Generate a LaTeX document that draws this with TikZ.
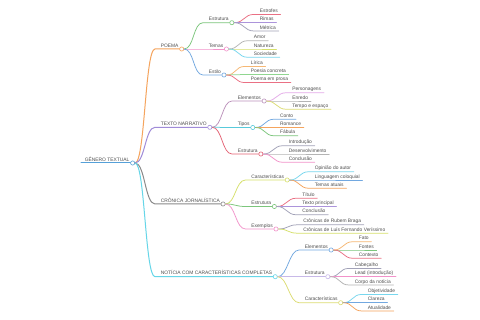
\documentclass[tikz,border=0pt]{standalone}
\usepackage{fontspec}
\setmainfont{Liberation Sans}
\usetikzlibrary{positioning}
\definecolor{txtgray}{HTML}{505050}
\definecolor{cSteel}{HTML}{55A0D8}
\definecolor{cOrange}{HTML}{F5A45D}
\definecolor{cPurple}{HTML}{A08CD8}
\definecolor{cGray}{HTML}{8A8A8A}
\definecolor{cCyan}{HTML}{66D6E8}
\definecolor{cGreen}{HTML}{7CC67C}
\definecolor{cPink}{HTML}{F292CA}
\definecolor{cBlue}{HTML}{72A8E0}
\definecolor{cRose}{HTML}{EA7084}
\definecolor{cViolet}{HTML}{AC94DB}
\definecolor{cSlate}{HTML}{A2A2B8}
\definecolor{cSilver}{HTML}{B4B4B4}
\definecolor{cLime}{HTML}{D6E06A}
\definecolor{cSky}{HTML}{78D7EE}
\definecolor{cPeach}{HTML}{F6B874}
\definecolor{cMint}{HTML}{90D690}
\definecolor{cMauve}{HTML}{BC92BB}
\definecolor{cTeal}{HTML}{58CADB}
\definecolor{cRed}{HTML}{E46274}
\definecolor{cLilac}{HTML}{E4AAE8}
\definecolor{cYellow}{HTML}{DCDC72}
\definecolor{cLav}{HTML}{C8B9E8}

\begin{document}
\begin{tikzpicture}[x=1pt, y=-1pt]
\tikzset{
  lbl/.style={font=\fontsize{4.9}{5.9}\selectfont, text=txtgray, inner sep=0.6pt, anchor=base west},
  knot/.style={circle, draw, fill=white, minimum size=4.2pt, inner sep=0pt, line width=0.6pt, anchor=west},
  limb/.style={line width=1pt, line cap=round},
  twig/.style={line width=0.75pt, line cap=round}
}
\path[fill=white] (0,0) rectangle (480,320);

% root
\node[lbl] (root) at (84,161.2) {GÊNERO TEXTUAL};
\coordinate (root-s) at (81,163);
\node[knot, draw=cSteel] (root-c) at (root.east |- root-s) {};
\draw[limb, cSteel] (root-s) -- (root-c.west);

% first level
\node[lbl] (poema) at (160,47.2) {POEMA};
\coordinate (poema-s) at (155,49);
\node[knot, draw=cOrange] (poema-c) at (poema.east |- poema-s) {};
\draw[limb, cOrange] (root-c.east) .. controls +(10,0) and +(-10,0) .. (poema-s) -- (poema-c.west);

\node[lbl] (narr) at (160,125.5) {TEXTO NARRATIVO};
\coordinate (narr-s) at (155,127.3);
\node[knot, draw=cPurple] (narr-c) at (narr.east |- narr-s) {};
\draw[limb, cPurple] (root-c.east) .. controls +(10,0) and +(-10,0) .. (narr-s) -- (narr-c.west);

\node[lbl] (cron) at (160,202.2) {CRÔNICA JORNALÍSTICA};
\coordinate (cron-s) at (155,204);
\node[knot, draw=cGray] (cron-c) at (cron.east |- cron-s) {};
\draw[limb, cGray] (root-c.east) .. controls +(10,0) and +(-10,0) .. (cron-s) -- (cron-c.west);

\node[lbl] (noti) at (160,274.9) {NOTÍCIA COM CARACTERÍSTICAS COMPLETAS};
\coordinate (noti-s) at (155,276.7);
\node[knot, draw=cCyan] (noti-c) at (noti.east |- noti-s) {};
\draw[limb, cCyan] (root-c.east) .. controls +(10,0) and +(-10,0) .. (noti-s) -- (noti-c.west);

% POEMA
\node[lbl] (poema-estr) at (208,20.9) {Estrutura};
\coordinate (poema-estr-s) at (203,22.7);
\node[knot, draw=cGreen] (poema-estr-c) at (poema-estr.east |- poema-estr-s) {};
\draw[twig, cGreen] (poema-c.east) .. controls +(10,0) and +(-10,0) .. (poema-estr-s) -- (poema-estr-c.west);

\node[lbl] (poema-tema) at (208,47.2) {Temas};
\coordinate (poema-tema-s) at (203,49);
\node[knot, draw=cPink] (poema-tema-c) at (poema-tema.east |- poema-tema-s) {};
\draw[twig, cPink] (poema-c.east) .. controls +(10,0) and +(-10,0) .. (poema-tema-s) -- (poema-tema-c.west);

\node[lbl] (poema-esti) at (208,73.2) {Estilo};
\coordinate (poema-esti-s) at (203,75);
\node[knot, draw=cBlue] (poema-esti-c) at (poema-esti.east |- poema-esti-s) {};
\draw[twig, cBlue] (poema-c.east) .. controls +(10,0) and +(-10,0) .. (poema-esti-s) -- (poema-esti-c.west);

\node[lbl] (estrofes) at (259,12.6) {Estrofes};  \coordinate (estrofes-s) at (254,14.4);
\draw[twig, cRose] (poema-estr-c.east) .. controls +(10,0) and +(-10,0) .. (estrofes-s) -- ([xshift=2pt]estrofes.east |- estrofes-s);
\node[lbl] (rimas) at (259,20.9) {Rimas};  \coordinate (rimas-s) at (254,22.7);
\draw[twig, cViolet] (poema-estr-c.east) .. controls +(10,0) and +(-10,0) .. (rimas-s) -- ([xshift=2pt]rimas.east |- rimas-s);
\node[lbl] (metrica) at (259,29.2) {Métrica};  \coordinate (metrica-s) at (254,31);
\draw[twig, cSlate] (poema-estr-c.east) .. controls +(10,0) and +(-10,0) .. (metrica-s) -- ([xshift=2pt]metrica.east |- metrica-s);

\node[lbl] (amor) at (253,38.9) {Amor};  \coordinate (amor-s) at (248,40.7);
\draw[twig, cSilver] (poema-tema-c.east) .. controls +(10,0) and +(-10,0) .. (amor-s) -- ([xshift=2pt]amor.east |- amor-s);
\node[lbl] (natureza) at (253,47.2) {Natureza};  \coordinate (natureza-s) at (248,49);
\draw[twig, cLime] (poema-tema-c.east) .. controls +(10,0) and +(-10,0) .. (natureza-s) -- ([xshift=2pt]natureza.east |- natureza-s);
\node[lbl] (sociedade) at (253,55.5) {Sociedade};  \coordinate (sociedade-s) at (248,57.3);
\draw[twig, cSky] (poema-tema-c.east) .. controls +(10,0) and +(-10,0) .. (sociedade-s) -- ([xshift=2pt]sociedade.east |- sociedade-s);

\node[lbl] (lirica) at (250,64.6) {Lírica};  \coordinate (lirica-s) at (245,66.4);
\draw[twig, cPeach] (poema-esti-c.east) .. controls +(10,0) and +(-10,0) .. (lirica-s) -- ([xshift=2pt]lirica.east |- lirica-s);
\node[lbl] (concreta) at (250,72.7) {Poesia concreta};  \coordinate (concreta-s) at (245,74.5);
\draw[twig, cMint] (poema-esti-c.east) .. controls +(10,0) and +(-10,0) .. (concreta-s) -- ([xshift=2pt]concreta.east |- concreta-s);
\node[lbl] (prosa) at (250,80.8) {Poema em prosa};  \coordinate (prosa-s) at (245,82.6);
\draw[twig, cRose] (poema-esti-c.east) .. controls +(10,0) and +(-10,0) .. (prosa-s) -- ([xshift=2pt]prosa.east |- prosa-s);

% TEXTO NARRATIVO
\node[lbl] (narr-elem) at (237,99.2) {Elementos};
\coordinate (narr-elem-s) at (232,101);
\node[knot, draw=cMauve] (narr-elem-c) at (narr-elem.east |- narr-elem-s) {};
\draw[twig, cMauve] (narr-c.east) .. controls +(10,0) and +(-10,0) .. (narr-elem-s) -- (narr-elem-c.west);

\node[lbl] (narr-tipo) at (237,125.7) {Tipos};
\coordinate (narr-tipo-s) at (232,127.5);
\node[knot, draw=cTeal] (narr-tipo-c) at (narr-tipo.east |- narr-tipo-s) {};
\draw[twig, cTeal] (narr-c.east) .. controls +(10,0) and +(-10,0) .. (narr-tipo-s) -- (narr-tipo-c.west);

\node[lbl] (narr-estr) at (237,152.2) {Estrutura};
\coordinate (narr-estr-s) at (232,154);
\node[knot, draw=cRed] (narr-estr-c) at (narr-estr.east |- narr-estr-s) {};
\draw[twig, cRed] (narr-c.east) .. controls +(10,0) and +(-10,0) .. (narr-estr-s) -- (narr-estr-c.west);

\node[lbl] (personagens) at (291.5,90.9) {Personagens};  \coordinate (personagens-s) at (286.5,92.7);
\draw[twig, cLilac] (narr-elem-c.east) .. controls +(10,0) and +(-10,0) .. (personagens-s) -- ([xshift=2pt]personagens.east |- personagens-s);
\node[lbl] (enredo) at (291.5,99.2) {Enredo};  \coordinate (enredo-s) at (286.5,101);
\draw[twig, cSilver] (narr-elem-c.east) .. controls +(10,0) and +(-10,0) .. (enredo-s) -- ([xshift=2pt]enredo.east |- enredo-s);
\node[lbl] (tempo) at (291.5,107.5) {Tempo e espaço};  \coordinate (tempo-s) at (286.5,109.3);
\draw[twig, cYellow] (narr-elem-c.east) .. controls +(10,0) and +(-10,0) .. (tempo-s) -- ([xshift=2pt]tempo.east |- tempo-s);

\node[lbl] (conto) at (279.3,117.4) {Conto};  \coordinate (conto-s) at (274.3,119.2);
\draw[twig, cBlue] (narr-tipo-c.east) .. controls +(10,0) and +(-10,0) .. (conto-s) -- ([xshift=2pt]conto.east |- conto-s);
\node[lbl] (romance) at (279.3,125.7) {Romance};  \coordinate (romance-s) at (274.3,127.5);
\draw[twig, cOrange] (narr-tipo-c.east) .. controls +(10,0) and +(-10,0) .. (romance-s) -- ([xshift=2pt]romance.east |- romance-s);
\node[lbl] (fabula) at (279.3,134) {Fábula};  \coordinate (fabula-s) at (274.3,135.8);
\draw[twig, cGreen] (narr-tipo-c.east) .. controls +(10,0) and +(-10,0) .. (fabula-s) -- ([xshift=2pt]fabula.east |- fabula-s);

\node[lbl] (intro) at (288,143.9) {Introdução};  \coordinate (intro-s) at (283,145.7);
\draw[twig, cSlate] (narr-estr-c.east) .. controls +(10,0) and +(-10,0) .. (intro-s) -- ([xshift=2pt]intro.east |- intro-s);
\node[lbl] (desenv) at (288,152.2) {Desenvolvimento};  \coordinate (desenv-s) at (283,154);
\draw[twig, cSilver] (narr-estr-c.east) .. controls +(10,0) and +(-10,0) .. (desenv-s) -- ([xshift=2pt]desenv.east |- desenv-s);
\node[lbl] (concl-a) at (288,160.5) {Conclusão};  \coordinate (concl-a-s) at (283,162.3);
\draw[twig, cPink] (narr-estr-c.east) .. controls +(10,0) and +(-10,0) .. (concl-a-s) -- ([xshift=2pt]concl-a.east |- concl-a-s);

% CRONICA JORNALISTICA
\node[lbl] (cron-cara) at (250.5,178.2) {Características};
\coordinate (cron-cara-s) at (245.5,180);
\node[knot, draw=cLime] (cron-cara-c) at (cron-cara.east |- cron-cara-s) {};
\draw[twig, cLime] (cron-c.east) .. controls +(10,0) and +(-10,0) .. (cron-cara-s) -- (cron-cara-c.west);

\node[lbl] (cron-estr) at (250.5,204.7) {Estrutura};
\coordinate (cron-estr-s) at (245.5,206.5);
\node[knot, draw=cGreen] (cron-estr-c) at (cron-estr.east |- cron-estr-s) {};
\draw[twig, cGreen] (cron-c.east) .. controls +(10,0) and +(-10,0) .. (cron-estr-s) -- (cron-estr-c.west);

\node[lbl] (cron-exem) at (250.5,227.2) {Exemplos};
\coordinate (cron-exem-s) at (245.5,229);
\node[knot, draw=cPink] (cron-exem-c) at (cron-exem.east |- cron-exem-s) {};
\draw[twig, cPink] (cron-c.east) .. controls +(10,0) and +(-10,0) .. (cron-exem-s) -- (cron-exem-c.west);

\node[lbl] (opiniao) at (314,169.9) {Opinião do autor};  \coordinate (opiniao-s) at (309,171.7);
\draw[twig, cSky] (cron-cara-c.east) .. controls +(10,0) and +(-10,0) .. (opiniao-s) -- ([xshift=2pt]opiniao.east |- opiniao-s);
\node[lbl] (coloquial) at (314,178.2) {Linguagem coloquial};  \coordinate (coloquial-s) at (309,180);
\draw[twig, cBlue] (cron-cara-c.east) .. controls +(10,0) and +(-10,0) .. (coloquial-s) -- ([xshift=2pt]coloquial.east |- coloquial-s);
\node[lbl] (atuais) at (314,186.5) {Temas atuais};  \coordinate (atuais-s) at (309,188.3);
\draw[twig, cOrange] (cron-cara-c.east) .. controls +(10,0) and +(-10,0) .. (atuais-s) -- ([xshift=2pt]atuais.east |- atuais-s);

\node[lbl] (titulo) at (301.5,196.4) {Título};  \coordinate (titulo-s) at (296.5,198.2);
\draw[twig, cRose] (cron-estr-c.east) .. controls +(10,0) and +(-10,0) .. (titulo-s) -- ([xshift=2pt]titulo.east |- titulo-s);
\node[lbl] (principal) at (301.5,204.7) {Texto principal};  \coordinate (principal-s) at (296.5,206.5);
\draw[twig, cViolet] (cron-estr-c.east) .. controls +(10,0) and +(-10,0) .. (principal-s) -- ([xshift=2pt]principal.east |- principal-s);
\node[lbl] (concl-b) at (301.5,213) {Conclusão};  \coordinate (concl-b-s) at (296.5,214.8);
\draw[twig, cSlate] (cron-estr-c.east) .. controls +(10,0) and +(-10,0) .. (concl-b-s) -- ([xshift=2pt]concl-b.east |- concl-b-s);

\node[lbl] (braga) at (302.5,223) {Crônicas de Rubem Braga};  \coordinate (braga-s) at (297.5,224.8);
\draw[twig, cSlate] (cron-exem-c.east) .. controls +(10,0) and +(-10,0) .. (braga-s) -- ([xshift=2pt]braga.east |- braga-s);
\node[lbl] (verissimo) at (302.5,231.4) {Crônicas de Luís Fernando Veríssimo};  \coordinate (verissimo-s) at (297.5,233.2);
\draw[twig, cLime] (cron-exem-c.east) .. controls +(10,0) and +(-10,0) .. (verissimo-s) -- ([xshift=2pt]verissimo.east |- verissimo-s);

% NOTICIA
\node[lbl] (noti-elem) at (304,248.2) {Elementos};
\coordinate (noti-elem-s) at (299,250);
\node[knot, draw=cBlue] (noti-elem-c) at (noti-elem.east |- noti-elem-s) {};
\draw[twig, cBlue] (noti-c.east) .. controls +(10,0) and +(-10,0) .. (noti-elem-s) -- (noti-elem-c.west);

\node[lbl] (noti-estr) at (304,274.9) {Estrutura};
\coordinate (noti-estr-s) at (299,276.7);
\node[knot, draw=cLav] (noti-estr-c) at (noti-estr.east |- noti-estr-s) {};
\draw[twig, cLav] (noti-c.east) .. controls +(10,0) and +(-10,0) .. (noti-estr-s) -- (noti-estr-c.west);

\node[lbl] (noti-cara) at (304,300.9) {Características};
\coordinate (noti-cara-s) at (299,302.7);
\node[knot, draw=cYellow] (noti-cara-c) at (noti-cara.east |- noti-cara-s) {};
\draw[twig, cYellow] (noti-c.east) .. controls +(10,0) and +(-10,0) .. (noti-cara-s) -- (noti-cara-c.west);

\node[lbl] (fato) at (358,239.9) {Fato};  \coordinate (fato-s) at (353,241.7);
\draw[twig, cPeach] (noti-elem-c.east) .. controls +(10,0) and +(-10,0) .. (fato-s) -- ([xshift=2pt]fato.east |- fato-s);
\node[lbl] (fontes) at (358,248.2) {Fontes};  \coordinate (fontes-s) at (353,250);
\draw[twig, cGreen] (noti-elem-c.east) .. controls +(10,0) and +(-10,0) .. (fontes-s) -- ([xshift=2pt]fontes.east |- fontes-s);
\node[lbl] (contexto) at (358,256.5) {Contexto};  \coordinate (contexto-s) at (353,258.3);
\draw[twig, cRose] (noti-elem-c.east) .. controls +(10,0) and +(-10,0) .. (contexto-s) -- ([xshift=2pt]contexto.east |- contexto-s);

\node[lbl] (cabecalho) at (354,266.6) {Cabeçalho};  \coordinate (cabecalho-s) at (349,268.4);
\draw[twig, cSlate] (noti-estr-c.east) .. controls +(10,0) and +(-10,0) .. (cabecalho-s) -- ([xshift=2pt]cabecalho.east |- cabecalho-s);
\node[lbl] (lead) at (354,274.9) {Lead (introdução)};  \coordinate (lead-s) at (349,276.7);
\draw[twig, cPink] (noti-estr-c.east) .. controls +(10,0) and +(-10,0) .. (lead-s) -- ([xshift=2pt]lead.east |- lead-s);
\node[lbl] (corpo) at (354,283.2) {Corpo da notícia};  \coordinate (corpo-s) at (349,285);
\draw[twig, cSilver] (noti-estr-c.east) .. controls +(10,0) and +(-10,0) .. (corpo-s) -- ([xshift=2pt]corpo.east |- corpo-s);

\node[lbl] (objet) at (367,292.6) {Objetividade};  \coordinate (objet-s) at (362,294.4);
\draw[twig, cSky] (noti-cara-c.east) .. controls +(10,0) and +(-10,0) .. (objet-s) -- ([xshift=2pt]objet.east |- objet-s);
\node[lbl] (clareza) at (367,300.9) {Clareza};  \coordinate (clareza-s) at (362,302.7);
\draw[twig, cBlue] (noti-cara-c.east) .. controls +(10,0) and +(-10,0) .. (clareza-s) -- ([xshift=2pt]clareza.east |- clareza-s);
\node[lbl] (atual) at (367,309.2) {Atualidade};  \coordinate (atual-s) at (362,311);
\draw[twig, cOrange] (noti-cara-c.east) .. controls +(10,0) and +(-10,0) .. (atual-s) -- ([xshift=2pt]atual.east |- atual-s);
\end{tikzpicture}
\end{document}
